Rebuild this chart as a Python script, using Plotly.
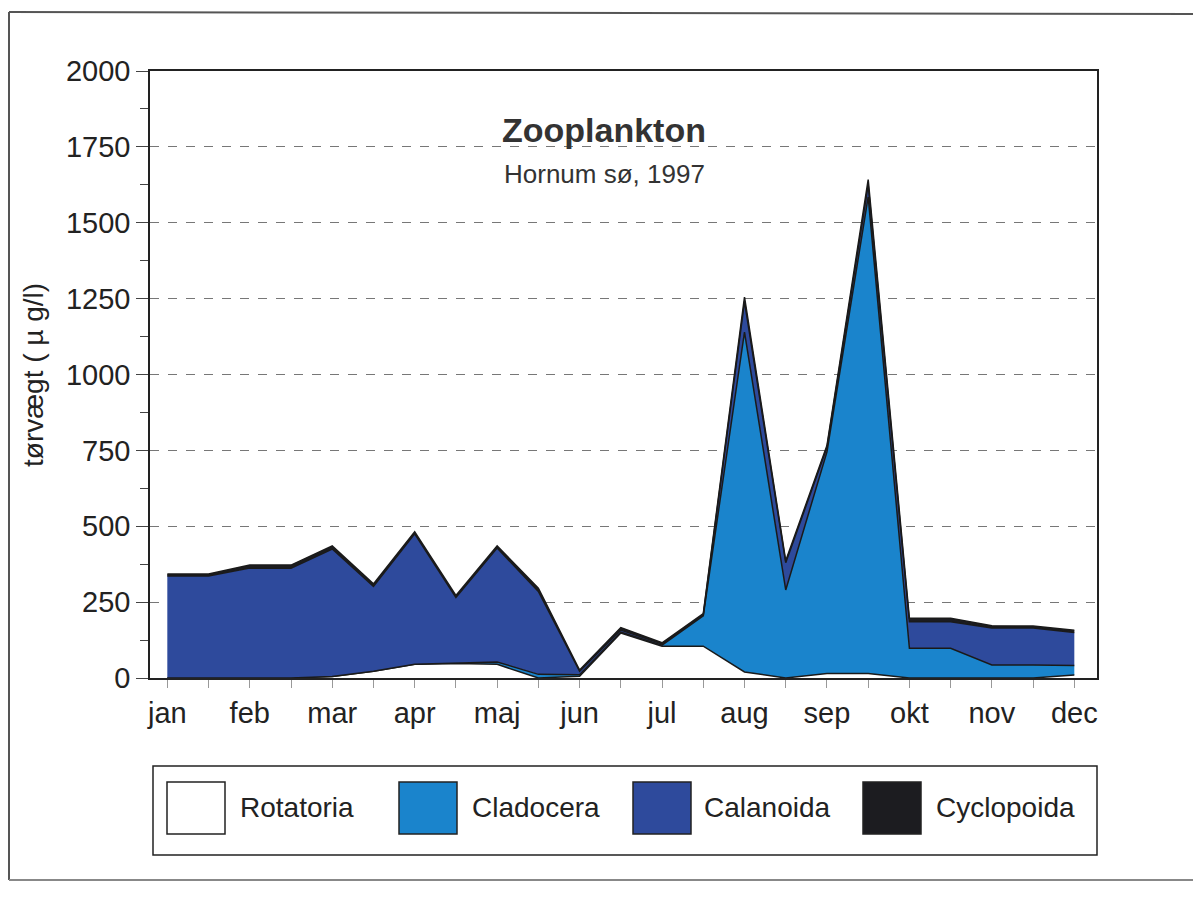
import plotly.graph_objects as go

# half-monthly samples, jan .. dec (23 points)
months = ["jan", "feb", "mar", "apr", "maj", "jun", "jul", "aug", "sep", "okt", "nov", "dec"]
x_idx = list(range(23))

# layer thickness, µg/l dry weight (stacked bottom -> top)
rotatoria = [0, 0, 0, 0, 5, 22, 45, 48, 45, 0, 6, 148, 105, 105, 20, 0, 15, 15, 0, 0, 0, 0, 10]
cladocera = [0, 0, 0, 0, 0, 0, 0, 2, 8, 12, 5, 3, 3, 100, 1120, 290, 730, 1570, 98, 98, 43, 43, 31]
calanoida = [336, 336, 362, 362, 420, 280, 430, 215, 375, 273, 11, 7, 4, 3, 100, 90, 15, 40, 87, 87, 122, 122, 109]
cyclopoida = [7, 7, 10, 10, 10, 8, 7, 7, 7, 11, 4, 8, 4, 4, 15, 6, 6, 17, 12, 12, 7, 6, 7]

series = [
    ("Rotatoria", rotatoria, "#ffffff"),
    ("Cladocera", cladocera, "#1a84cc"),
    ("Calanoida", calanoida, "#2e4a9c"),
    ("Cyclopoida", cyclopoida, "#1c1c20"),
]

FONT = "Liberation Sans, Arial, sans-serif"
W, H = 1201, 909
L, R, T, B = 150, 1097, 71, 678  # plot area in page pixels
OFF = 8  # page body margin


def px(x):
    return (x - L) / (R - L)


def py(y):
    return (B - y) / (B - T)


fig = go.Figure()
for name, vals, col in series:
    fig.add_trace(go.Scatter(
        x=x_idx, y=vals, name=name, mode="lines", stackgroup="one",
        fillcolor=col, line=dict(color="#1a1a1a", width=1.5),
        showlegend=False,
    ))

ticktext = [months[i // 2] if i % 2 == 0 else "" for i in x_idx]

fig.update_xaxes(
    range=[-0.42, 22.55], tickvals=x_idx, ticktext=ticktext,
    ticks="outside", ticklen=8, tickcolor="#999", tickwidth=1,
    showline=True, linecolor="#222", linewidth=1.5, mirror=True,
    showgrid=False, zeroline=False,
    tickfont=dict(family=FONT, size=29, color="#222"),
)
fig.update_yaxes(
    range=[0, 2000], tickvals=list(range(0, 2001, 250)),
    ticks="outside", ticklen=12, tickcolor="#444",
    minor=dict(tickvals=list(range(125, 2000, 250)), ticks="outside", ticklen=8, tickcolor="#444"),
    showline=True, linecolor="#222", linewidth=1.5, mirror=True,
    showgrid=True, gridcolor="#777", griddash="dash", gridwidth=1,
    zeroline=False,
    tickfont=dict(family=FONT, size=29, color="#222"),
)

ann = [
    dict(text="<b>Zooplankton</b>", x=px(604), y=py(130), font=dict(size=34, color="#333")),
    dict(text="Hornum sø, 1997", x=px(604), y=py(174), font=dict(size=26, color="#333")),
    dict(text="tørvægt ( µ g/l)", x=px(33), y=py(375), textangle=-90, font=dict(size=28, color="#222")),
]

shapes = [
    # scanned page frame
    dict(type="line", x0=px(9), x1=px(1201), y0=py(12), y1=py(14), line=dict(color="#555", width=2)),
    dict(type="line", x0=px(9), x1=px(9), y0=py(12), y1=py(880), line=dict(color="#555", width=2)),
    dict(type="line", x0=px(9), x1=px(1201), y0=py(880), y1=py(880), line=dict(color="#888", width=2)),
    # legend box
    dict(type="rect", x0=px(153), x1=px(1097), y0=py(766), y1=py(855), line=dict(color="#222", width=1.5)),
]

legend_items = [(167, 238), (399, 470), (633, 702), (863, 934)]
for (sx, tx), (name, _, col) in zip(legend_items, series):
    shapes.append(dict(type="rect", x0=px(sx), x1=px(sx + 58), y0=py(782), y1=py(834),
                       fillcolor=col, line=dict(color="#222", width=1.5)))
    ann.append(dict(text=name, x=px(tx), y=py(808), xanchor="left",
                    font=dict(size=28, color="#222")))

for s in shapes:
    s.update(xref="paper", yref="paper")

for a in ann:
    a.setdefault("xanchor", "center")
    a.update(xref="paper", yref="paper", yanchor="middle", showarrow=False)
    a["font"]["family"] = FONT

fig.update_layout(
    width=W, height=H,
    margin=dict(l=L - OFF, r=W - (R - OFF), t=T - OFF, b=H - (B - OFF)),
    plot_bgcolor="white", paper_bgcolor="white",
    annotations=ann, shapes=shapes,
    showlegend=False,
)

fig.write_html("out.html")
